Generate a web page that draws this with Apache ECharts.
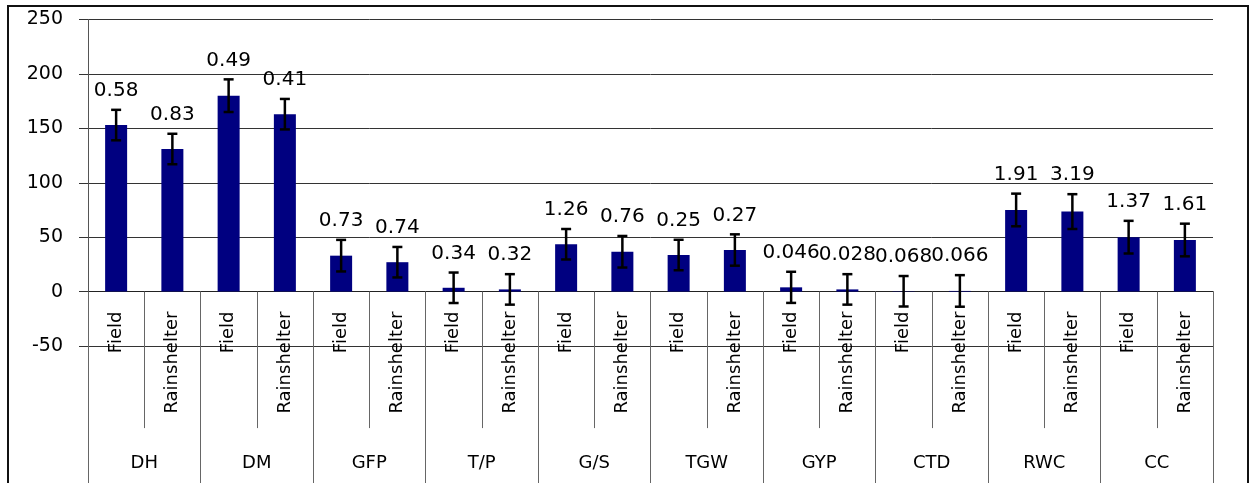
<!DOCTYPE html>
<html>
<head>
<meta charset="utf-8">
<script src="https://cdn.jsdelivr.net/npm/echarts@6/dist/echarts.min.js"></script>
<style>
  html, body { margin: 0; padding: 0; background: #fff; }
  #chart { position: absolute; left: 0; top: 0; width: 1251px; height: 483px; }
  #frame { position: absolute; left: 7px; top: 5px; width: 1242px; height: 540px;
           border: 2px solid #111; box-sizing: border-box; pointer-events: none; }
</style>
</head>
<body>
<div id="chart"></div>
<div id="frame"></div>
<script>
// groups (traits) and the two environments
const groups = ['DH', 'DM', 'GFP', 'T/P', 'G/S', 'TGW', 'GYP', 'CTD', 'RWC', 'CC'];
const treatments = ['Field', 'Rainshelter'];

// bar heights
const fieldMean = [153, 180, 33, 3.5, 43.5, 33.6, 3.9, 0.3, 75, 50];
const rainMean = [131, 163, 27, 2, 36.6, 38.2, 2, 0.6, 73.5, 47.4];
// half length of the error bars
const fieldErr = [14, 15, 14.5, 14, 14, 14, 14.3, 14, 15, 15];
const rainErr = [14, 14, 14, 14, 14.5, 14.4, 14, 14.5, 16, 15];
// numbers printed over each error bar
const fieldLabels = ['0.58', '0.49', '0.73', '0.34', '1.26', '0.25', '0.046', '0.068', '1.91', '1.37'];
const rainLabels = ['0.83', '0.41', '0.74', '0.32', '0.76', '0.27', '0.028', '0.066', '3.19', '1.61'];

const yTicks = [-50, 0, 50, 100, 150, 200, 250];

const FONT = 'DejaVu Sans';

// interleave field / rainshelter
const cats = [], means = [], errRows = [], labels = [];
groups.forEach((g, i) => {
  cats.push(treatments[0], treatments[1]);
  means.push(fieldMean[i], rainMean[i]);
  labels.push(fieldLabels[i], rainLabels[i]);
  errRows.push([2 * i, fieldMean[i] - fieldErr[i], fieldMean[i] + fieldErr[i]]);
  errRows.push([2 * i + 1, rainMean[i] - rainErr[i], rainMean[i] + rainErr[i]]);
});

// grid geometry; the category table hangs from y = 0, so shift the x axes up to it
const gridTop = 19.5, gridBottom = 137, chartH = 483;
const gridH = chartH - gridTop - gridBottom;
const yMin = yTicks[0], yMax = yTicks[yTicks.length - 1];
const zeroShift = -gridH * (0 - yMin) / (yMax - yMin);

const chart = echarts.init(document.getElementById('chart'));

chart.setOption({
  animation: false,
  grid: { left: 88, right: 38, top: gridTop, bottom: gridBottom, containLabel: false, outerBoundsMode: 'none' },
  xAxis: [
    {
      type: 'category',
      data: cats,
      offset: zeroShift,
      axisLine: { onZero: false, lineStyle: { color: '#222', width: 1 } },
      axisTick: { show: true, interval: 0, length: 136.5, lineStyle: { color: '#666', width: 1 } },
      axisLabel: { interval: 0, rotate: 90, margin: 20, fontSize: 18, fontFamily: FONT, color: '#000' },
      splitLine: { show: false }
    },
    {
      type: 'category',
      data: groups,
      position: 'bottom',
      offset: zeroShift,
      axisLine: { show: false, onZero: false },
      axisTick: { show: true, interval: 0, length: 220, lineStyle: { color: '#666', width: 1 } },
      axisLabel: { interval: 0, margin: 163, fontSize: 18, fontFamily: FONT, color: '#000' },
      splitLine: { show: false }
    }
  ],
  yAxis: {
    type: 'value',
    min: yMin,
    max: yMax,
    interval: 50,
    axisLine: { show: true, lineStyle: { color: '#555', width: 1 } },
    axisTick: { show: true, length: 9, lineStyle: { color: '#333' } },
    axisLabel: { margin: 25, fontSize: 19, fontFamily: FONT, color: '#000' },
    splitLine: { show: true, lineStyle: { color: '#333', width: 1 } }
  },
  series: [
    {
      type: 'bar',
      xAxisIndex: 0,
      data: means,
      barWidth: 22,
      itemStyle: { color: '#000080' },
      z: 2
    },
    {
      type: 'custom',
      xAxisIndex: 0,
      data: errRows,
      z: 3,
      renderItem: (params, api) => {
        const idx = api.value(0);
        const top = api.coord([idx, api.value(2)]);
        const bot = api.coord([idx, api.value(1)]);
        const cap = 5;
        const st = { stroke: '#000', lineWidth: 2.5 };
        return {
          type: 'group',
          children: [
            { type: 'line', shape: { x1: top[0], y1: top[1], x2: bot[0], y2: bot[1] }, style: st },
            { type: 'line', shape: { x1: top[0] - cap, y1: top[1], x2: top[0] + cap, y2: top[1] }, style: st },
            { type: 'line', shape: { x1: bot[0] - cap, y1: bot[1], x2: bot[0] + cap, y2: bot[1] }, style: st },
            {
              type: 'text',
              x: top[0],
              y: top[1] - 9,
              style: {
                text: labels[params.dataIndex],
                fill: '#000',
                fontSize: 20,
                fontFamily: FONT,
                align: 'center',
                verticalAlign: 'bottom',
                textAlign: 'center',
                textVerticalAlign: 'bottom'
              }
            }
          ]
        };
      }
    }
  ]
});
</script>
</body>
</html>
